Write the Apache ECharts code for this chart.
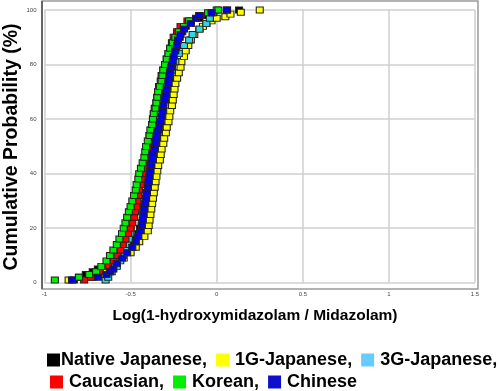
<!DOCTYPE html>
<html><head><meta charset="utf-8">
<script src="https://cdn.jsdelivr.net/npm/echarts@6/dist/echarts.min.js"></script>
<style>html,body{margin:0;padding:0;background:#fff}#c{width:500px;height:391px}</style>
</head><body><div id="c"></div>
<script>
// Groups (drawing order = legend order)
const groupNames = ['Native Japanese', '1G-Japanese', '3G-Japanese', 'Caucasian', 'Korean', 'Chinese'];
const groupColors = ['#000000', '#ffff00', '#33d6e6', '#ff0000', '#00ee00', '#0000ee'];
const legendColors = ['#000000', '#ffff00', '#66ccff', '#ff0000', '#00ee00', '#1010cc'];
const xTicks = [-1, -0.5, 0, 0.5, 1, 1.5];
const yTicks = [0, 20, 40, 60, 80, 100];

const nativeX = [-0.83,-0.80,-0.76,-0.72,-0.69,-0.64,-0.60,-0.56,-0.52,-0.49,-0.47,-0.455,-0.445,-0.435,-0.425,-0.42,-0.415,-0.41,-0.40,-0.395,-0.39,-0.385,-0.38,-0.375,-0.37,-0.365,-0.36,-0.355,-0.35,-0.345,-0.34,-0.335,-0.33,-0.32,-0.315,-0.31,-0.30,-0.295,-0.29,-0.28,-0.275,-0.265,-0.26,-0.25,-0.245,-0.235,-0.225,-0.215,-0.20,-0.18,-0.15,-0.10,-0.05,-0.02,0.13];
const nativeY = [1,2,3,4,5,6,8,10,12,14,16,18,20,22,24,26,28,30,32,34,36,38,40,42,44,46,48,50,52,54,56,58,60,62,64,66,68,70,72,74,76,78,80,82,84,86,88,90,92,94,96,97,98,99,100];

const g1X = [-0.86,-0.72,-0.66,-0.64,-0.58,-0.54,-0.50,-0.47,-0.45,-0.42,-0.40,-0.395,-0.39,-0.385,-0.38,-0.375,-0.37,-0.365,-0.36,-0.355,-0.35,-0.345,-0.34,-0.33,-0.325,-0.32,-0.31,-0.305,-0.295,-0.29,-0.28,-0.275,-0.27,-0.26,-0.255,-0.25,-0.245,-0.24,-0.23,-0.22,-0.21,-0.205,-0.19,-0.18,-0.165,-0.15,-0.13,-0.10,-0.08,-0.06,-0.03,0.0,0.05,0.08,0.14,0.25];
const g1Y = [1,2,3,5,7,9,11,13,15,17,19,21,23,25,27,29,31,33,35,37,39,41,43,45,47,49,51,53,55,57,59,61,63,65,67,69,71,73,75,77,79,81,83,85,87,89,91,93,94,95,96,97,97.5,98.5,99.2,100];

const g3X = [-0.645,-0.63,-0.61,-0.58,-0.56,-0.545,-0.53,-0.52,-0.51,-0.505,-0.50,-0.495,-0.49,-0.47,-0.46,-0.45,-0.435,-0.425,-0.415,-0.405,-0.39,-0.38,-0.37,-0.36,-0.35,-0.34,-0.33,-0.315,-0.305,-0.29,-0.275,-0.26,-0.24,-0.22,-0.19,-0.16,-0.14,-0.10,-0.06,-0.04,-0.02,0.0];
const g3Y = [1,2,4,6,8,10,12,14,16,18,20,22,24,26,28,30,33,36,39,42,45,48,51,54,57,60,63,66,69,72,75,78,81,84,87,89,91,93,95,97,99,100];

const caucX = [-0.77,-0.73,-0.68,-0.63,-0.60,-0.575,-0.56,-0.545,-0.53,-0.515,-0.50,-0.49,-0.48,-0.475,-0.465,-0.46,-0.455,-0.45,-0.44,-0.435,-0.43,-0.425,-0.42,-0.41,-0.405,-0.40,-0.395,-0.39,-0.38,-0.375,-0.37,-0.365,-0.36,-0.35,-0.345,-0.34,-0.335,-0.325,-0.32,-0.31,-0.30,-0.29,-0.28,-0.27,-0.26,-0.25,-0.23,-0.21,-0.17,-0.10,0.06];
const caucY = [1,2,4,6,8,10,12,14,16,18,20,22,24,26,28,30,32,34,36,38,40,42,44,46,48,50,52,54,56,58,60,62,64,66,68,70,72,74,76,78,80,82,84,86,88,90,92,94,96,98,100];

const koreanX = [-0.94,-0.80,-0.74,-0.70,-0.67,-0.64,-0.62,-0.60,-0.58,-0.565,-0.55,-0.54,-0.53,-0.52,-0.51,-0.50,-0.49,-0.48,-0.47,-0.465,-0.455,-0.45,-0.44,-0.43,-0.42,-0.415,-0.41,-0.40,-0.39,-0.385,-0.375,-0.37,-0.365,-0.355,-0.35,-0.345,-0.34,-0.33,-0.32,-0.315,-0.31,-0.30,-0.29,-0.28,-0.27,-0.255,-0.24,-0.22,-0.19,-0.16,-0.10,-0.05,0.01];
const koreanY = [1,2,3,4,6,8,10,12,14,16,18,20,22,24,26,28,30,32,34,36,38,40,42,44,46,48,50,52,54,56,58,60,62,64,66,68,70,72,74,76,78,80,82,84,86,88,90,92,94,96,98,99,100];

const chineseX = [-0.84,-0.69,-0.64,-0.62,-0.60,-0.58,-0.55,-0.52,-0.49,-0.47,-0.455,-0.445,-0.435,-0.43,-0.425,-0.42,-0.415,-0.41,-0.405,-0.40,-0.395,-0.39,-0.385,-0.38,-0.375,-0.37,-0.36,-0.355,-0.35,-0.345,-0.335,-0.325,-0.32,-0.315,-0.31,-0.30,-0.295,-0.29,-0.28,-0.275,-0.27,-0.265,-0.255,-0.25,-0.24,-0.23,-0.225,-0.21,-0.19,-0.15,-0.12,-0.10,-0.03,0.06];
const chineseY = [1,2,3,4,5,7,9,11,13,15,17,19,21,23,25,27,29,31,33,35,37,39,41,43,45,47,49,51,53,55,57,59,61,63,65,67,69,71,73,75,77,79,81,83,85,87,89,91,93,95,97,98,99,100];

const groupX = [nativeX, g1X, g3X, caucX, koreanX, chineseX];
const groupY = [nativeY, g1Y, g3Y, caucY, koreanY, chineseY];

const chart = echarts.init(document.getElementById('c'), null, {renderer: 'canvas'});
const FONT = '"Liberation Sans", Arial, sans-serif';

const series = groupNames.map((name, i) => ({
  name: name,
  type: 'scatter',
  symbol: 'rect',
  symbolSize: [7, 6],
  clip: false,
  itemStyle: {color: groupColors[i], borderColor: '#222', borderWidth: 1, opacity: 1},
  emphasis: {disabled: true},
  data: groupX[i].map((x, k) => [x, groupY[i][k]])
}));

const legendLabel = {
  'Native Japanese': 'Native Japanese,',
  '1G-Japanese': ' 1G-Japanese,',
  '3G-Japanese': ' 3G-Japanese,',
  'Caucasian': ' Caucasian,',
  'Korean': ' Korean,',
  'Chinese': ' Chinese'
};

function legendCfg(names, left, top) {
  return {
    left: left, top: top, orient: 'horizontal',
    icon: 'rect', itemWidth: 13, itemHeight: 13, itemGap: 9,
    selectedMode: false,
    padding: 0,
    textStyle: {fontFamily: FONT, fontWeight: 'bold', fontSize: 18, color: '#000', padding: [0, 0, 0, -4]},
    formatter: n => legendLabel[n],
    data: names.map(n => ({name: n, itemStyle: {color: legendColors[groupNames.indexOf(n)], borderWidth: 0}}))
  };
}

chart.setOption({
  animation: false,
  backgroundColor: '#fff',
  grid: {left: 44.5, right: 25, top: 10, bottom: 108.3, containLabel: false},
  xAxis: {
    type: 'value', min: xTicks[0], max: xTicks[xTicks.length - 1], interval: 0.5,
    axisLine: {show: false}, axisTick: {show: false},
    axisLabel: {fontSize: 6, color: '#444', margin: 9, fontFamily: FONT},
    splitLine: {show: true, lineStyle: {color: '#cfcfcf', width: 1.5}}
  },
  yAxis: {
    type: 'value', min: yTicks[0], max: yTicks[yTicks.length - 1], interval: 20,
    axisLine: {show: false}, axisTick: {show: false},
    axisLabel: {fontSize: 6, color: '#444', margin: 8, fontFamily: FONT},
    splitLine: {show: true, lineStyle: {color: '#cfcfcf', width: 1.5}}
  },
  legend: [
    legendCfg(groupNames.slice(0, 3), 47, 351),
    legendCfg(groupNames.slice(3), 50, 373)
  ],
  graphic: [
    {type: 'rect', z: 0, silent: true, shape: {x: 42, y: 1, width: 436, height: 288}, style: {fill: 'none', stroke: '#9a9a9a', lineWidth: 1.5}},
    {type: 'line', z: 0, silent: true, shape: {x1: 42, y1: 1, x2: 42, y2: 289}, style: {stroke: '#666', lineWidth: 2}},
    {type: 'text', silent: true, x: 12, y: 147, rotation: Math.PI / 2,
      style: {text: 'Cumulative Probability (%)', font: 'bold 19.5px ' + FONT, fill: '#000', textAlign: 'center', textVerticalAlign: 'middle'}},
    {type: 'text', silent: true, x: 255, y: 316,
      style: {text: 'Log(1-hydroxymidazolam / Midazolam)', font: 'bold 15.5px ' + FONT, fill: '#000', textAlign: 'center', textVerticalAlign: 'middle'}}
  ],
  series: series
});
</script></body></html>
